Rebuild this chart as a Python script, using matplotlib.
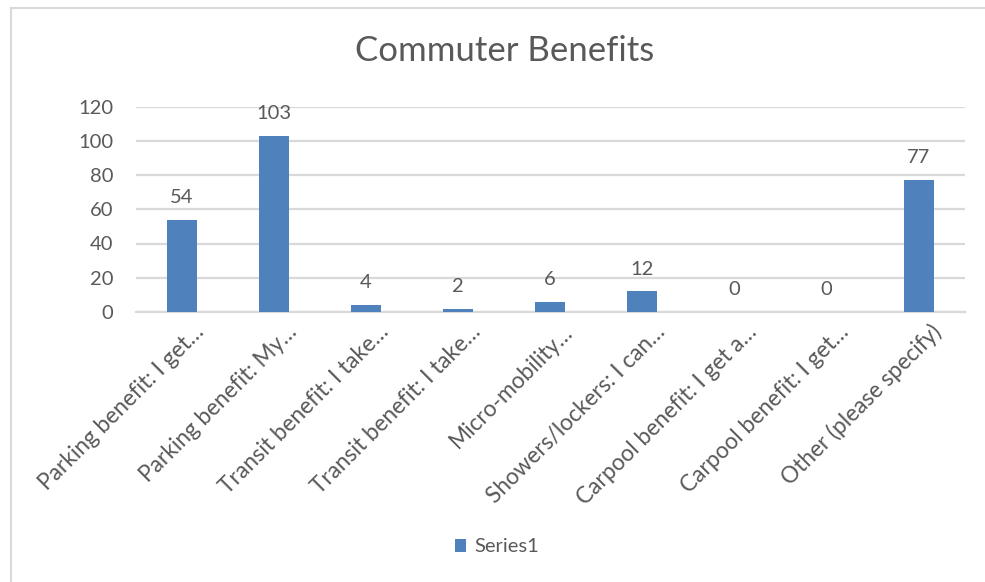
import matplotlib
matplotlib.use("Agg")
import matplotlib.pyplot as plt
from matplotlib.lines import Line2D
import matplotlib.transforms as mtransforms

categories = [
    "Parking benefit: I get…",
    "Parking benefit: My…",
    "Transit benefit: I take…",
    "Transit benefit: I take…",
    "Micro-mobility…",
    "Showers/lockers: I can…",
    "Carpool benefit: I get a…",
    "Carpool benefit: I get…",
    "Other (please specify)",
]
values = [54, 103, 4, 2, 6, 12, 0, 0, 77]
series_name = "Series1"
title = "Commuter Benefits"
yticks = [0, 20, 40, 60, 80, 100, 120]

W, H = 985, 582
plt.rcParams['font.family'] = ['Lato', 'DejaVu Sans']
text_color = "#595959"
grid_color = "#D9D9D9"
bar_color = "#4F81BD"

fig = plt.figure(figsize=(W / 100, H / 100), dpi=100)
fig.patch.set_facecolor("white")
ax = fig.add_axes([135.6 / W, 1 - 312 / H, (964.6 - 135.6) / W, (312 - 106.5) / H])

x = list(range(len(categories)))
bars = ax.bar(x, values, width=0.326, color=bar_color, label=series_name, zorder=3)

ax.set_xlim(-0.5, len(categories) - 0.5)
ax.set_ylim(0, 120)
ax.set_yticks(yticks)
ax.set_yticklabels([str(t) for t in yticks])
ax.yaxis.grid(True, color=grid_color, linewidth=1.6, zorder=0)
ax.set_axisbelow(True)
for s in ["top", "right", "left"]:
    ax.spines[s].set_visible(False)
ax.spines["bottom"].set_color(grid_color)
ax.spines["bottom"].set_linewidth(1.6)
ax.tick_params(axis="y", length=0, pad=16, labelsize=14.5, labelcolor=text_color)
ax.tick_params(axis="x", length=0)
ax.set_xticks(x)
ax.set_xticklabels([])

# rotated category labels
offset = mtransforms.ScaledTranslation(12 / 100, -9 / 100, fig.dpi_scale_trans)
for xi, lab in zip(x, categories):
    ax.text(xi, 0, lab, rotation=45, rotation_mode="anchor", ha="right", va="top",
            fontsize=16.3, color=text_color,
            transform=ax.get_xaxis_transform() + offset)

# data labels
for xi, v in zip(x, values):
    ax.annotate(str(v), (xi, v), xytext=(0, 12.2), textcoords="offset points",
                ha="center", va="baseline", fontsize=14.5, color=text_color)

fig.text(505 / W, 1 - 51 / H, title, ha="center", va="center", fontsize=25, color=text_color)

fig.legend(handles=[bars], labels=[series_name], loc="center",
           bbox_to_anchor=(497 / W, 1 - 547 / H), frameon=False, fontsize=14.5,
           labelcolor=text_color, handlelength=0.55, handleheight=0.65, handletextpad=0.4)

# outer frame (left and top edges visible)
fig.add_artist(Line2D([11 / W, 11 / W], [0, 1 - 8 / H], color=grid_color, linewidth=1.5,
                      transform=fig.transFigure))
fig.add_artist(Line2D([11 / W, 1], [1 - 8 / H, 1 - 8 / H], color=grid_color, linewidth=1.5,
                      transform=fig.transFigure))

fig.savefig("out.png", dpi=100, facecolor="white")
